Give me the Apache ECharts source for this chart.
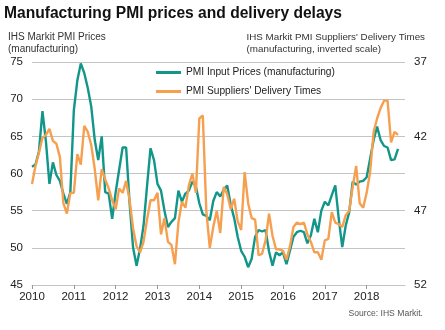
<!DOCTYPE html>
<html>
<head>
<meta charset="utf-8">
<script src="https://cdn.jsdelivr.net/npm/echarts@6/dist/echarts.min.js"></script>
<style>
html,body{margin:0;padding:0;background:#fff;}
#chart{width:445px;height:330px;}
</style>
</head>
<body>
<div id="chart"></div>
<script>
// ---- data ----
const years = ['2010','2011','2012','2013','2014','2015','2016','2017','2018'];
const leftTicks = [45, 50, 55, 60, 65, 70, 75];
const rightTicks = [37, 42, 47, 52];

// PMI Input Prices (manufacturing), monthly from Jan 2010
const inputPrices = [
  60.9, 61.2, 63.0, 68.4, 64.3, 58.6, 61.5, 59.8, 59.0, 57.3, 55.9, 57.5,
  68.5, 72.5, 74.8, 73.5, 71.5, 69.0, 64.5, 61.8, 65.0, 57.5, 57.3, 53.9,
  57.5, 60.5, 63.5, 63.5, 56.0, 50.0, 47.6, 49.9, 53.0, 58.3, 63.4, 61.8,
  58.6, 57.7, 55.0, 52.8, 53.5, 54.0, 57.7, 56.2, 57.3, 57.7, 58.9, 58.3,
  56.0, 54.5, 54.3, 53.7, 56.3, 57.5, 56.9, 57.8, 58.4, 55.8, 54.0, 51.5,
  49.6, 48.8, 47.4, 48.5, 51.5, 52.4, 52.2, 52.4, 49.5, 47.6, 49.4, 49.0,
  49.4, 47.8, 49.6, 51.5, 52.1, 52.3, 52.1, 50.6, 51.7, 53.9, 52.1, 55.0,
  56.2, 55.7, 57.1, 58.4, 53.9, 50.1, 53.0, 54.8, 58.9, 58.5, 58.9, 59.0,
  59.5, 62.0, 64.5, 66.3, 64.5, 63.7, 63.5, 61.8, 61.9, 63.3, null, null
];

// PMI Suppliers' Delivery Times (manufacturing), monthly from Jan 2010
const deliveryTimes = [
  45.2, 44.0, 43.1, 42.1, 41.9, 41.5, 42.3, 42.5, 43.4, 46.5, 47.2, 45.8,
  45.8, 43.2, 43.9, 41.3, 41.7, 42.6, 44.2, 46.3, 44.2, 44.9, 45.5, 46.3,
  46.9, 45.5, 45.8, 45.0, 46.3, 48.2, 49.4, 49.8, 49.1, 47.6, 46.3, 46.3,
  45.8, 48.6, 47.5, 49.1, 49.3, 50.6, 47.8, 46.4, 46.8, 45.3, 44.5, 45.8,
  40.8, 40.6, 47.0, 49.5, 48.1, 47.0, 48.5, 45.4, 45.9, 46.9, 46.2, 47.7,
  48.3, 44.4, 46.5, 47.5, 47.6, 50.0, 49.9, 49.0, 47.2, 48.7, 49.6, 49.6,
  49.7, 50.3, 49.4, 48.1, 47.8, 47.9, 47.8, 48.6, 49.1, 49.8, 49.8, 50.3,
  49.0, 48.9, 47.1, 47.8, 47.9, 48.1, 47.3, 47.0, 45.4, 44.0, 46.5, 46.8,
  45.8, 44.4, 41.7, 40.8, 40.1, 39.6, 39.6, 42.4, 41.7, 41.9, null, null
];

const months = [];
years.forEach(y => { for (let m = 1; m <= 12; m++) months.push(y + '-' + (m < 10 ? '0' + m : m)); });

const FONT = 'Liberation Sans, Arial, sans-serif';
const TEAL = '#12968a';
const ORANGE = '#f6a04f';
const GRID = '#c4c4c4';

const chart = echarts.init(document.getElementById('chart'), null, {renderer: 'canvas'});
chart.setOption({
  animation: false,
  backgroundColor: '#ffffff',
  textStyle: {fontFamily: FONT},
  title: {
    text: 'Manufacturing PMI prices and delivery delays',
    left: 4, top: 6, padding: 0,
    textStyle: {fontSize: 15.6, fontWeight: 'bold', color: '#111', fontFamily: FONT}
  },
  graphic: [
    {type: 'text', left: 8, top: 31,
      style: {text: 'IHS Markit PMI Prices\n(manufacturing)', font: '10px ' + FONT, fill: '#333', lineHeight: 12}},
    {type: 'text', right: 20, top: 31,
      style: {text: "IHS Markit PMI Suppliers' Delivery Times\n(manufacturing, inverted scale)", font: '9.8px ' + FONT, fill: '#333', lineHeight: 12, align: 'right'}},
    {type: 'text', right: 22, top: 309,
      style: {text: 'Source: IHS Markit.', font: '8.6px ' + FONT, fill: '#555'}}
  ],
  legend: {
    orient: 'vertical', left: 151, top: 61,
    itemWidth: 25, itemHeight: 3, itemGap: 6,
    icon: 'rect',
    textStyle: {fontSize: 10.2, color: '#222', fontFamily: FONT, lineHeight: 13},
    data: ['PMI Input Prices (manufacturing)', "PMI Suppliers' Delivery Times"]
  },
  grid: {left: 32, right: 40, top: 62, bottom: 45, containLabel: false},
  xAxis: {
    type: 'category', data: months, boundaryGap: false,
    axisLine: {show: true, lineStyle: {color: GRID, width: 1}},
    axisTick: {show: true, length: 4, interval: (i) => i % 12 === 0, lineStyle: {color: '#999'}},
    axisLabel: {interval: (i) => i % 12 === 0, formatter: (v) => v.slice(0, 4), fontSize: 11.5, color: '#222', margin: 6, fontFamily: FONT},
    splitLine: {show: false}
  },
  yAxis: [
    {
      type: 'value', position: 'left', min: 45, max: 75, interval: 5,
      axisLine: {show: false}, axisTick: {show: false},
      axisLabel: {fontSize: 11.5, color: '#222', margin: 9, fontFamily: FONT, customValues: leftTicks},
      splitLine: {show: true, lineStyle: {color: GRID, width: 1}}
    },
    {
      type: 'value', position: 'right', min: 37, max: 52, inverse: true,
      axisLine: {show: false}, axisTick: {show: false},
      axisLabel: {fontSize: 11.5, color: '#222', margin: 9, fontFamily: FONT, customValues: rightTicks},
      splitLine: {show: false}
    }
  ],
  series: [
    {name: 'PMI Input Prices (manufacturing)', type: 'line', yAxisIndex: 0, data: inputPrices,
      showSymbol: false, symbol: 'none', lineStyle: {color: TEAL, width: 2.4}, itemStyle: {color: TEAL}},
    {name: "PMI Suppliers' Delivery Times", type: 'line', yAxisIndex: 1, data: deliveryTimes,
      showSymbol: false, symbol: 'none', lineStyle: {color: ORANGE, width: 2.4}, itemStyle: {color: ORANGE}}
  ]
});
</script>
</body>
</html>
